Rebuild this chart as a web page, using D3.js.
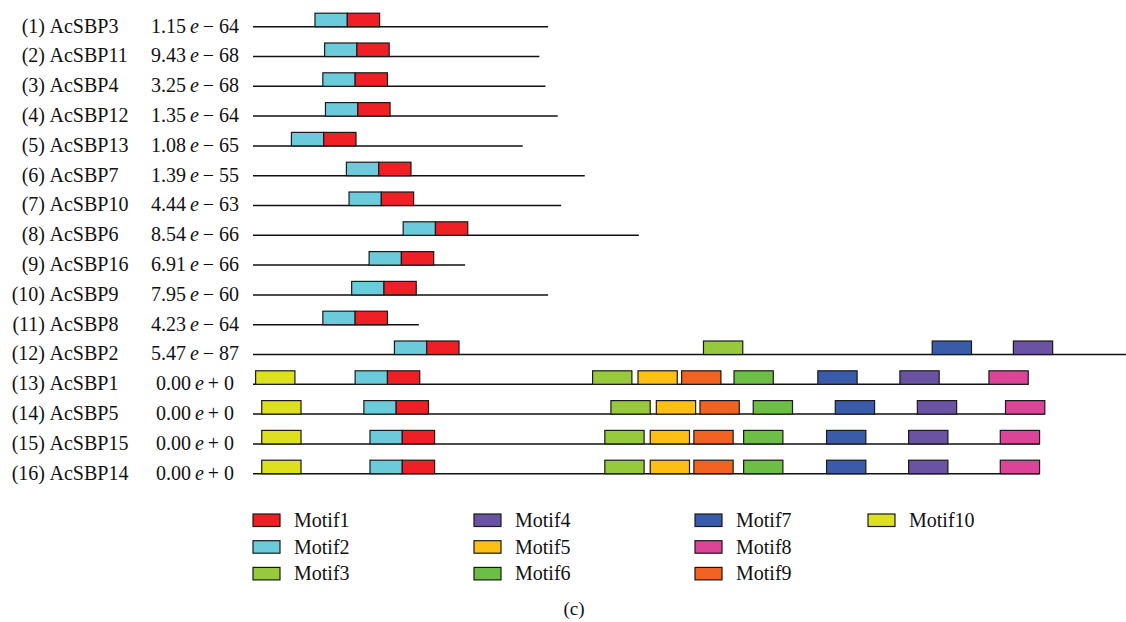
<!DOCTYPE html>
<html>
<head>
<meta charset="utf-8">
<script src="https://cdn.jsdelivr.net/npm/d3@7"></script>
<style>
  body { margin: 0; background: #fff; }
  svg { display: block; }
  text { font-family: "Liberation Serif", "Times New Roman", serif; fill: #111; }
</style>
</head>
<body>
<svg id="chart" width="1126" height="622"></svg>
<script>
// gene names, row numbers and e-values, top to bottom
const genes = ["AcSBP3", "AcSBP11", "AcSBP4", "AcSBP12", "AcSBP13", "AcSBP7", "AcSBP10", "AcSBP6",
  "AcSBP16", "AcSBP9", "AcSBP8", "AcSBP2", "AcSBP1", "AcSBP5", "AcSBP15", "AcSBP14"];
const pMant = ["1.15", "9.43", "3.25", "1.35", "1.08", "1.39", "4.44", "8.54",
  "6.91", "7.95", "4.23", "5.47", "0.00", "0.00", "0.00", "0.00"];
const pExp = ["\u2212 64", "\u2212 68", "\u2212 68", "\u2212 64", "\u2212 65", "\u2212 55", "\u2212 63", "\u2212 66",
  "\u2212 66", "\u2212 60", "\u2212 64", "\u2212 87", "+ 0", "+ 0", "+ 0", "+ 0"];

// sequence length (aa, estimated)
const seqLen = [338, 328, 335, 349, 309, 380, 353, 442, 243, 338, 190, 1000, 888, 907, 901, 901];

// motif start positions per gene: [motif number, start]
const motifs = [
  [[2, 71], [1, 108]],
  [[2, 82], [1, 119]],
  [[2, 80], [1, 117]],
  [[2, 83], [1, 120]],
  [[2, 44], [1, 81]],
  [[2, 107], [1, 144]],
  [[2, 110], [1, 147]],
  [[2, 172], [1, 209]],
  [[2, 133], [1, 170]],
  [[2, 113], [1, 150]],
  [[2, 80], [1, 117]],
  [[2, 162], [1, 199], [3, 516], [7, 778], [4, 871]],
  [[10, 3], [2, 117], [1, 154], [3, 389], [5, 441], [9, 491], [6, 551], [7, 647], [4, 741], [8, 843]],
  [[10, 10], [2, 127], [1, 164], [3, 410], [5, 462], [9, 512], [6, 573], [7, 667], [4, 761], [8, 862]],
  [[10, 10], [2, 134], [1, 171], [3, 403], [5, 455], [9, 505], [6, 562], [7, 657], [4, 751], [8, 856]],
  [[10, 10], [2, 134], [1, 171], [3, 403], [5, 455], [9, 505], [6, 562], [7, 657], [4, 751], [8, 856]]
];

// motif widths (aa) and colours, Motif1..Motif10
const motifLen = [37, 37, 45, 45, 45, 45, 45, 45, 45, 45];
const motifColors = ["#ee1f25", "#6ccbdb", "#97c93d", "#6a53a2", "#fdbf14",
  "#6cbe45", "#3a5ba9", "#dc4498", "#f26322", "#dde01f"];
const motifNames = d3.range(1, 11).map(d => "Motif" + d);

const svg = d3.select("#chart");

const x = d3.scaleLinear().domain([0, 1000]).range([253, 1126]);
const y = d3.scalePoint().domain(d3.range(genes.length)).range([26.7, 473.7]);
const boxH = 13.5;

const rows = svg.selectAll("g.row")
  .data(genes)
  .enter()
  .append("g")
  .attr("class", "row")
  .attr("transform", (d, i) => "translate(0," + y(i) + ")");

rows.append("text")
  .attr("x", 45)
  .attr("y", 5.8)
  .attr("text-anchor", "end")
  .style("font-size", "20px")
  .text((d, i) => "(" + (i + 1) + ")");

rows.append("text")
  .attr("x", 49.5)
  .attr("y", 5.8)
  .style("font-size", "20px")
  .text(d => d);

const pv = rows.append("text")
  .attr("x", 195)
  .attr("y", 5.8)
  .attr("text-anchor", "middle")
  .style("font-size", "20px");
pv.append("tspan").text((d, i) => pMant[i] + "\u2009");
pv.append("tspan").style("font-style", "italic").text("e");
pv.append("tspan").text((d, i) => "\u2009" + pExp[i]);

rows.append("line")
  .attr("x1", x(0))
  .attr("x2", (d, i) => x(seqLen[i]))
  .attr("y1", 0)
  .attr("y2", 0)
  .attr("stroke", "#111")
  .attr("stroke-width", 1.5);

rows.selectAll("rect")
  .data((d, i) => motifs[i])
  .enter()
  .append("rect")
  .attr("x", m => x(m[1]))
  .attr("y", -boxH)
  .attr("width", m => x(m[1] + motifLen[m[0] - 1]) - x(m[1]))
  .attr("height", boxH)
  .attr("fill", m => motifColors[m[0] - 1])
  .attr("stroke", "#1a1a1a")
  .attr("stroke-width", 1.2);

// legend, three rows per column
const legX = [253, 474, 695, 868];
const legY = [514, 540.7, 567.4];

const leg = svg.selectAll("g.leg")
  .data(motifNames)
  .enter()
  .append("g")
  .attr("class", "leg")
  .attr("transform", (d, i) => "translate(" + legX[Math.floor(i / 3)] + "," + legY[i % 3] + ")");

leg.append("rect")
  .attr("width", 27)
  .attr("height", 12.5)
  .attr("fill", (d, i) => motifColors[i])
  .attr("stroke", "#1a1a1a")
  .attr("stroke-width", 1.2);

leg.append("text")
  .attr("x", 41)
  .attr("y", 13)
  .style("font-size", "20px")
  .text(d => d);

svg.append("text")
  .attr("x", 574)
  .attr("y", 615)
  .attr("text-anchor", "middle")
  .style("font-size", "19px")
  .text("(c)");
</script>
</body>
</html>
